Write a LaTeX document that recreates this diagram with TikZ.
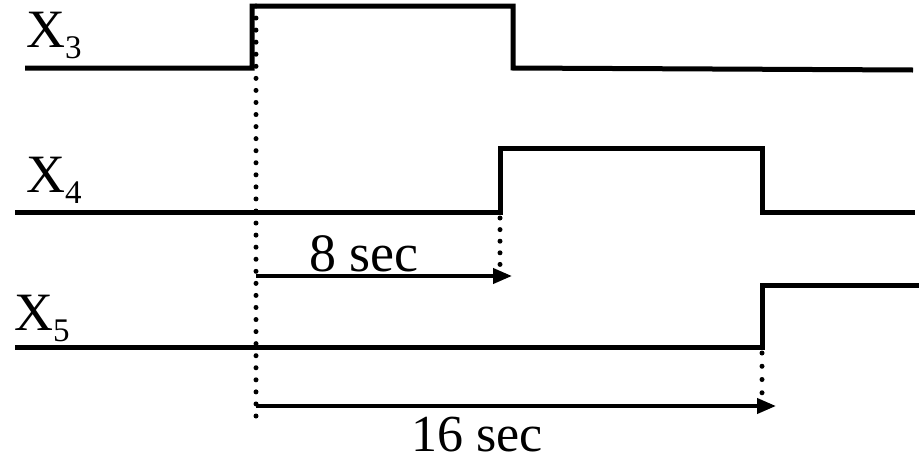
\documentclass[tikz,border=0pt]{standalone}
\usepackage{fontspec}
\setmainfont{Liberation Serif}
\usetikzlibrary{arrows.meta,calc}
\newcommand{\sigsub}[1]{{\fontsize{33}{33}\selectfont\raisebox{-11pt}{#1}}}
\begin{document}
\begin{tikzpicture}[x=1pt,y=-1pt,line join=miter]
            \tikzstyle{wave}=[line width=5pt]
            \tikzstyle{span}=[line width=4pt,-{Triangle[length=19pt,width=15pt]}]
            \tikzstyle{lbl}=[inner sep=0pt,font=\fontsize{54}{54}\selectfont]
            \useasboundingbox (0,0) rectangle (919,461);
            % signals
            \draw[wave] (25,68) -- (252,68) -- (252,6) -- (513,6) -- (513,68) -- (913,70);
            \draw[wave] (15,212) -- (500,212) -- (500,148) -- (762,148) -- (762,212) -- (915,212);
            \draw[wave] (15,347) -- (762,347) -- (762,285) -- (919,285);
            \node[lbl,anchor=base west](x3) at (26,47){X\sigsub{3}};
            \node[lbl,anchor=base west](x4) at (26,192){X\sigsub{4}};
            \node[lbl,anchor=base west](x5) at (14,330){X\sigsub{5}};
            % timing
            \coordinate (t0) at (256,6);
            \coordinate (t0b) at (256,416);
            \coordinate (t1) at (500,218);
            \coordinate (t1b) at (500,276);
            \coordinate (t2) at (762,353);
            \coordinate (t2b) at (762,406);
            \foreach \a/\b/\n in {t0/t0b/34,t1/t1b/5,t2/t2b/4}
              \foreach \k in {0,...,\n}
                \fill ($(\a)!\k/\n!(\b)$) circle (2.5pt);
            \draw[span] (t0 |- t1b) -- ([xshift=12pt]t1b);
            \draw[span] (t0 |- t2b) -- ([xshift=14pt]t2b);
            \node[lbl,anchor=base](d8) at (364,271){8 sec};
            \node[lbl,anchor=base,font=\fontsize{52}{52}\selectfont](d16) at (477,451){16 sec};
          \end{tikzpicture}
\end{document}
